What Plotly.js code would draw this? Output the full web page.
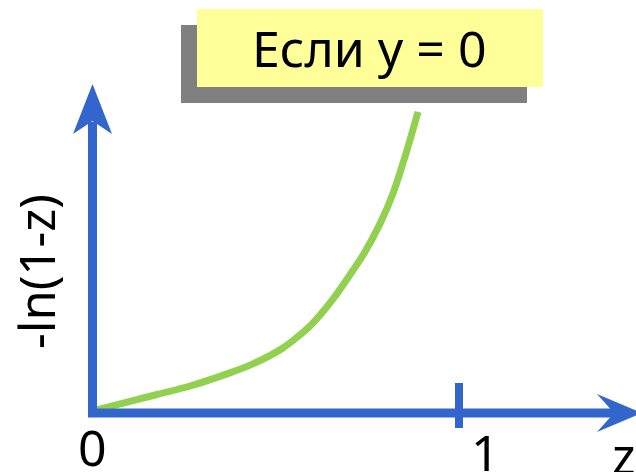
<!DOCTYPE html>
<html>
<head>
<meta charset="utf-8">
<script src="https://cdn.plot.ly/plotly-3.0.1.min.js"></script>
<style>html,body{margin:0;padding:0;background:#fff;}#chart{width:636px;height:472px;}</style>
</head>
<body>
<div id="chart"></div>
<script>
// Curve values (schematic -ln(1-z))
const zValues = [0, 0.128, 0.265, 0.374, 0.429, 0.519, 0.593, 0.656, 0.694, 0.738, 0.784, 0.820, 0.858, 0.888];
const lossValues = [0.003, 0.036, 0.071, 0.107, 0.128, 0.175, 0.235, 0.309, 0.363, 0.429, 0.514, 0.598, 0.716, 0.820];
const titleText = "Если y = 0";
const yLabel = "-ln(1-z)";
const xLabel = "z";
const tickLabels = ["0", "1"];

const W = 636, H = 472;
const px = v => v / W;
const py = v => 1 - v / H;
const BLUE = "#3366CC";

function path(points) {
  return "M" + points.map(p => px(p[0]) + "," + py(p[1])).join(" L") + " Z";
}

const shapes = [
  // shadow + yellow box
  {type:"rect", xref:"paper", yref:"paper", x0:px(181), x1:px(527), y0:py(103), y1:py(25), fillcolor:"#808080", line:{width:0}, layer:"above"},
  {type:"rect", xref:"paper", yref:"paper", x0:px(197), x1:px(543), y0:py(87), y1:py(9), fillcolor:"#FFFF99", line:{width:0}, layer:"above"},
  // y axis
  {type:"line", xref:"paper", yref:"paper", x0:px(92.5), x1:px(92.5), y0:py(417), y1:py(122), line:{color:BLUE, width:9}},
  {type:"path", xref:"paper", yref:"paper", path:path([[92.5,84],[112,134],[92.5,121],[73,134]]), fillcolor:BLUE, line:{width:0}},
  // x axis
  {type:"line", xref:"paper", yref:"paper", x0:px(88), x1:px(615), y0:py(413), y1:py(413), line:{color:BLUE, width:9}},
  {type:"path", xref:"paper", yref:"paper", path:path([[642,413],[597,394],[614,413],[597,432]]), fillcolor:BLUE, line:{width:0}},
  // tick at 1
  {type:"line", xref:"paper", yref:"paper", x0:px(459), x1:px(459), y0:py(383), y1:py(428), line:{color:BLUE, width:8}}
];

const font = {family:"Noto Sans, DejaVu Sans, sans-serif", color:"#000"};
const annotations = [
  {xref:"paper", yref:"paper", x:px(369), y:py(48), text:titleText, showarrow:false, xanchor:"center", yanchor:"middle", font:Object.assign({}, font, {size:50})},
  {xref:"paper", yref:"paper", x:px(36), y:py(272), text:yLabel, textangle:-90, showarrow:false, xanchor:"center", yanchor:"middle", font:Object.assign({}, font, {size:49})},
  {xref:"paper", yref:"paper", x:px(92), y:py(447), text:tickLabels[0], showarrow:false, xanchor:"center", yanchor:"middle", font:Object.assign({}, font, {size:50})},
  {xref:"paper", yref:"paper", x:px(485), y:py(452), text:tickLabels[1], showarrow:false, xanchor:"center", yanchor:"middle", font:Object.assign({}, font, {size:50})},
  {xref:"paper", yref:"paper", x:px(624), y:py(455), text:xLabel, showarrow:false, xanchor:"center", yanchor:"middle", font:Object.assign({}, font, {size:50})}
];

const trace = {
  x: zValues, y: lossValues, type:"scatter", mode:"lines",
  line:{color:"#92D050", width:7, shape:"spline", smoothing:0.7},
  hoverinfo:"skip"
};

const layout = {
  width:W, height:H,
  margin:{l:0, r:0, t:0, b:0},
  paper_bgcolor:"#fff", plot_bgcolor:"#fff",
  showlegend:false,
  xaxis:{range:[-93/366, 543/366], visible:false, fixedrange:true},
  yaxis:{range:[(412-472)/366, 412/366], visible:false, fixedrange:true},
  shapes: shapes,
  annotations: annotations
};

Plotly.newPlot("chart", [trace], layout, {displayModeBar:false, staticPlot:true});
</script>
</body>
</html>
